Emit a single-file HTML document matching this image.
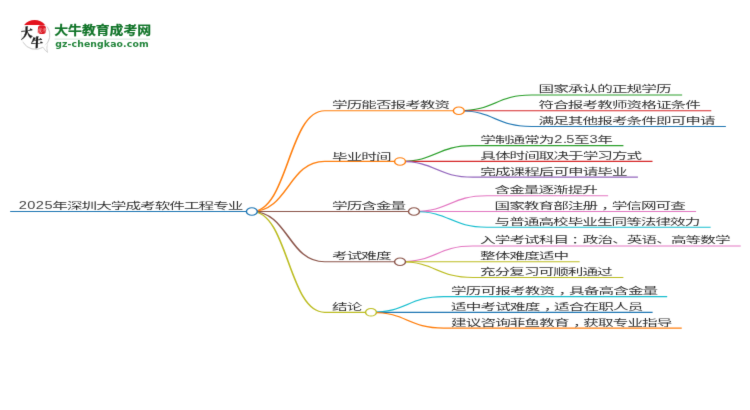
<!DOCTYPE html>
<html lang="zh-CN">
<head>
<meta charset="utf-8">
<title>2025年深圳大学成考软件工程专业</title>
<style>
html,body{margin:0;padding:0;background:#fff;}
body{width:750px;height:410px;overflow:hidden;position:relative;font-family:"Liberation Sans","Noto Sans CJK SC",sans-serif;}
svg{position:absolute;left:0;top:0;display:block;}
.mm text{font-family:"Liberation Sans","Noto Sans CJK SC",sans-serif;font-size:9.1px;font-weight:400;fill:#333;letter-spacing:-0.566px;}
.mm text.d{font-size:10.3px;font-weight:400;fill:#444;letter-spacing:0.330px;}
.mm path{fill:none;stroke-width:1.8;}
.mm circle{fill:#fff;stroke-width:1.6;}
</style>
</head>
<body>
<svg width="750" height="410" viewBox="0 0 750 410">
<rect width="750" height="410" fill="#fff"/>
<defs><filter id="soft" x="0" y="0" width="750" height="410" filterUnits="userSpaceOnUse" color-interpolation-filters="sRGB"><feConvolveMatrix order="3" kernelMatrix="0.00723 0.07055 0.00723 0.07055 0.68890 0.07055 0.00723 0.07055 0.00723" divisor="1" edgeMode="none" preserveAlpha="false"/></filter></defs>
<g filter="url(#soft)">
<g class="logo">
<path d="M42.8,46.8 Q45,50.6 47.5,52.4 Q46.4,48.6 47.2,44.4 Z" fill="#fff" stroke="#c8c8c8" stroke-width="0.8" stroke-linejoin="round"/>
<circle cx="35.5" cy="35.0" r="14.4" fill="#fff" stroke="#ededed" stroke-width="0.9"/>
<path d="M47.30,26.74 A14.4,14.4 0 1 1 23.03,42.20" fill="none" stroke="#cfcfcf" stroke-width="1"/>
<path d="M42.9,46.9 L47,44.6" fill="none" stroke="#fff" stroke-width="1.6"/>
<path d="M24.1,24.9 A13.7,13.7 0 0 1 45.1,24.9 Z" fill="#e4121d"/>
<rect x="38" y="25.2" width="7.9" height="8.8" rx="2.8" ry="3" fill="#dc1824"/>
<text x="41.95" y="31.6" text-anchor="middle" font-family="'Liberation Serif','Noto Serif CJK SC',serif" font-size="5" font-weight="700" fill="#f19a9a">成考</text>
<text transform="translate(21,38.4) rotate(-8) skewX(-8) scale(1,1.1)" font-family="'Liberation Serif','Noto Serif CJK SC',serif" font-size="11.8" font-weight="900" fill="#1a1a1a" stroke="#1a1a1a" stroke-width="0.3">大</text>
<text transform="translate(30.8,47.4) rotate(-4) skewX(-6)" font-family="'Liberation Serif','Noto Serif CJK SC',serif" font-size="12.2" font-weight="900" fill="#1a1a1a" stroke="#1a1a1a" stroke-width="0.3">牛</text>
<text transform="translate(54.2,34.6) scale(1.156,1)" font-family="'Liberation Sans','Noto Sans CJK SC',sans-serif" font-size="12" font-weight="700" fill="#12752a" stroke="#12752a" stroke-width="0.25">大牛教育成考网</text>
<rect x="54.5" y="38.6" width="95.5" height="1" fill="#d5e6d9"/>
<text x="55.2" y="47.4" font-family="'DejaVu Sans','Liberation Sans',sans-serif" font-size="9.3" font-weight="700" letter-spacing="0.13" fill="#21843a">gz-chengkao.com</text>
</g>

<g class="mm">
<g transform="scale(0.909,0.628)">
<g class="links">
<path d="M11.17,336.7H277.07" stroke="#1f77b4"/>
<path d="M277.07,336.7C317.12,336.7 317.12,176.4 357.16,176.4H504.75" stroke="#ff7f0e"/>
<path d="M504.75,176.4C544.8,176.4 544.8,151.31 584.84,151.31H750.44" stroke="#2ca02c"/>
<path d="M504.75,176.4C544.8,176.4 544.8,176.4 584.84,176.4H782.5" stroke="#d62728"/>
<path d="M504.75,176.4C544.8,176.4 544.8,201.5 584.84,201.5H798.53" stroke="#1f77b4"/>
<path d="M277.07,336.7C317.12,336.7 317.12,257.01 357.16,257.01H440.09" stroke="#ff7f0e"/>
<path d="M440.09,257.01C480.13,257.01 480.13,231.91 520.18,231.91H685.84" stroke="#2ca02c"/>
<path d="M440.09,257.01C480.13,257.01 480.13,257.01 520.18,257.01H717.83" stroke="#d62728"/>
<path d="M440.09,257.01C480.13,257.01 480.13,282.1 520.18,282.1H701.8" stroke="#9467bd"/>
<path d="M277.07,336.7C317.12,336.7 317.12,336.7 357.16,336.7H455.4" stroke="#8c564b"/>
<path d="M455.4,336.7C495.45,336.7 495.45,311.61 535.49,311.61H669.03" stroke="#e377c2"/>
<path d="M455.4,336.7C495.45,336.7 495.45,336.7 535.49,336.7H765.75" stroke="#e377c2"/>
<path d="M455.4,336.7C495.45,336.7 495.45,361.8 535.49,361.8H781.78" stroke="#17becf"/>
<path d="M277.07,336.7C317.12,336.7 317.12,416.88 357.16,416.88H440.09" stroke="#8c564b"/>
<path d="M440.09,416.88C480.13,416.88 480.13,391.78 520.18,391.78H814.88" stroke="#e377c2"/>
<path d="M440.09,416.88C480.13,416.88 480.13,416.88 520.18,416.88H637.69" stroke="#bcbd22"/>
<path d="M440.09,416.88C480.13,416.88 480.13,441.97 520.18,441.97H685.78" stroke="#bcbd22"/>
<path d="M277.07,336.7C317.12,336.7 317.12,497.37 357.16,497.37H408.14" stroke="#bcbd22"/>
<path d="M408.14,497.37C448.18,497.37 448.18,472.28 488.23,472.28H733.97" stroke="#17becf"/>
<path d="M408.14,497.37C448.18,497.37 448.18,497.37 488.23,497.37H717.94" stroke="#1f77b4"/>
<path d="M408.14,497.37C448.18,497.37 448.18,522.47 488.23,522.47H750" stroke="#ff7f0e"/>
</g>
<g class="circles">
<circle cx="277.07" cy="336.7" r="6" stroke="#1f77b4"/>
<circle cx="504.75" cy="176.4" r="6" stroke="#ff7f0e"/>
<circle cx="440.09" cy="257.01" r="6" stroke="#ff7f0e"/>
<circle cx="455.4" cy="336.7" r="6" stroke="#8c564b"/>
<circle cx="440.09" cy="416.88" r="6" stroke="#8c564b"/>
<circle cx="408.14" cy="497.37" r="6" stroke="#bcbd22"/>
</g>
</g>
<g class="labels">
<g aria-label="2025年深圳大学成考软件工程专业"><text class="d" transform="translate(18.65,209) scale(1.4200,1)">2025</text><text transform="translate(52.27,209) scale(1.7143,1)">年深圳大学成考软件工程专业</text></g>
<text transform="translate(332.12,108.18) scale(1.7143,1)">学历能否报考教资</text>
<text style="letter-spacing:-0.529px" transform="translate(538.47,92.42) scale(1.7143,1)">国家承认的正规学历</text>
<text style="letter-spacing:-0.531px" transform="translate(538.46,108.18) scale(1.7143,1)">符合报考教师资格证条件</text>
<text style="letter-spacing:-0.529px" transform="translate(538.47,123.94) scale(1.7143,1)">满足其他报考条件即可申请</text>
<text transform="translate(332.12,159.6) scale(1.7143,1)">毕业时间</text>
<g aria-label="学制通常为2.5至3年"><text transform="translate(480.35,143.14) scale(1.7143,1)">学制通常为</text><text class="d" dx="0 0 -0.8" transform="translate(554.29,143.14) scale(1.4200,1)">2.5</text><text transform="translate(574.1,143.14) scale(1.7143,1)">至</text><text class="d" transform="translate(589.52,143.14) scale(1.4200,1)">3</text><text transform="translate(597.33,143.14) scale(1.7143,1)">年</text></g>
<text transform="translate(480.35,158.9) scale(1.7143,1)">具体时间取决于学习方式</text>
<text transform="translate(480.35,174.66) scale(1.7143,1)">完成课程后可申请毕业</text>
<text transform="translate(332.12,209.15) scale(1.7143,1)">学历含金量</text>
<text transform="translate(494.57,193.09) scale(1.7143,1)">含金量逐渐提升</text>
<text dx="0 0 0 0 0 0 0 2.51 -2.51 0 0 0 0" transform="translate(494.57,208.85) scale(1.7143,1)">国家教育部注册，学信网可查</text>
<text transform="translate(494.57,224.61) scale(1.7143,1)">与普通高校毕业生同等法律效力</text>
<text transform="translate(332.12,259.2) scale(1.7143,1)">考试难度</text>
<text style="letter-spacing:-0.544px" dx="0 0 0 0 0 0 1.75 -1.75 0 0 0 0 0 0 0 0 0" transform="translate(480.07,243.44) scale(1.7143,1)">入学考试科目：政治、英语、高等数学</text>
<text style="letter-spacing:-0.519px" transform="translate(480.09,259.2) scale(1.7143,1)">整体难度适中</text>
<text transform="translate(480.05,274.96) scale(1.7143,1)">充分复习可顺利通过</text>
<text transform="translate(332.12,309.75) scale(1.7143,1)">结论</text>
<text style="letter-spacing:-0.512px" dx="0 0 0 0 0 0 0 2.51 -2.51 0 0 0 0 0" transform="translate(451.06,293.99) scale(1.7143,1)">学历可报考教资，具备高含金量</text>
<text style="letter-spacing:-0.517px" dx="0 0 0 0 0 0 2.51 -2.51 0 0 0 0 0" transform="translate(451.06,309.75) scale(1.7143,1)">适中考试难度，适合在职人员</text>
<text style="letter-spacing:-0.524px" dx="0 0 0 0 0 0 0 0 2.51 -2.51 0 0 0 0 0" transform="translate(451.05,325.51) scale(1.7143,1)">建议咨询菲鱼教育，获取专业指导</text>
</g>
</g>
</g>
</svg>
</body>
</html>
